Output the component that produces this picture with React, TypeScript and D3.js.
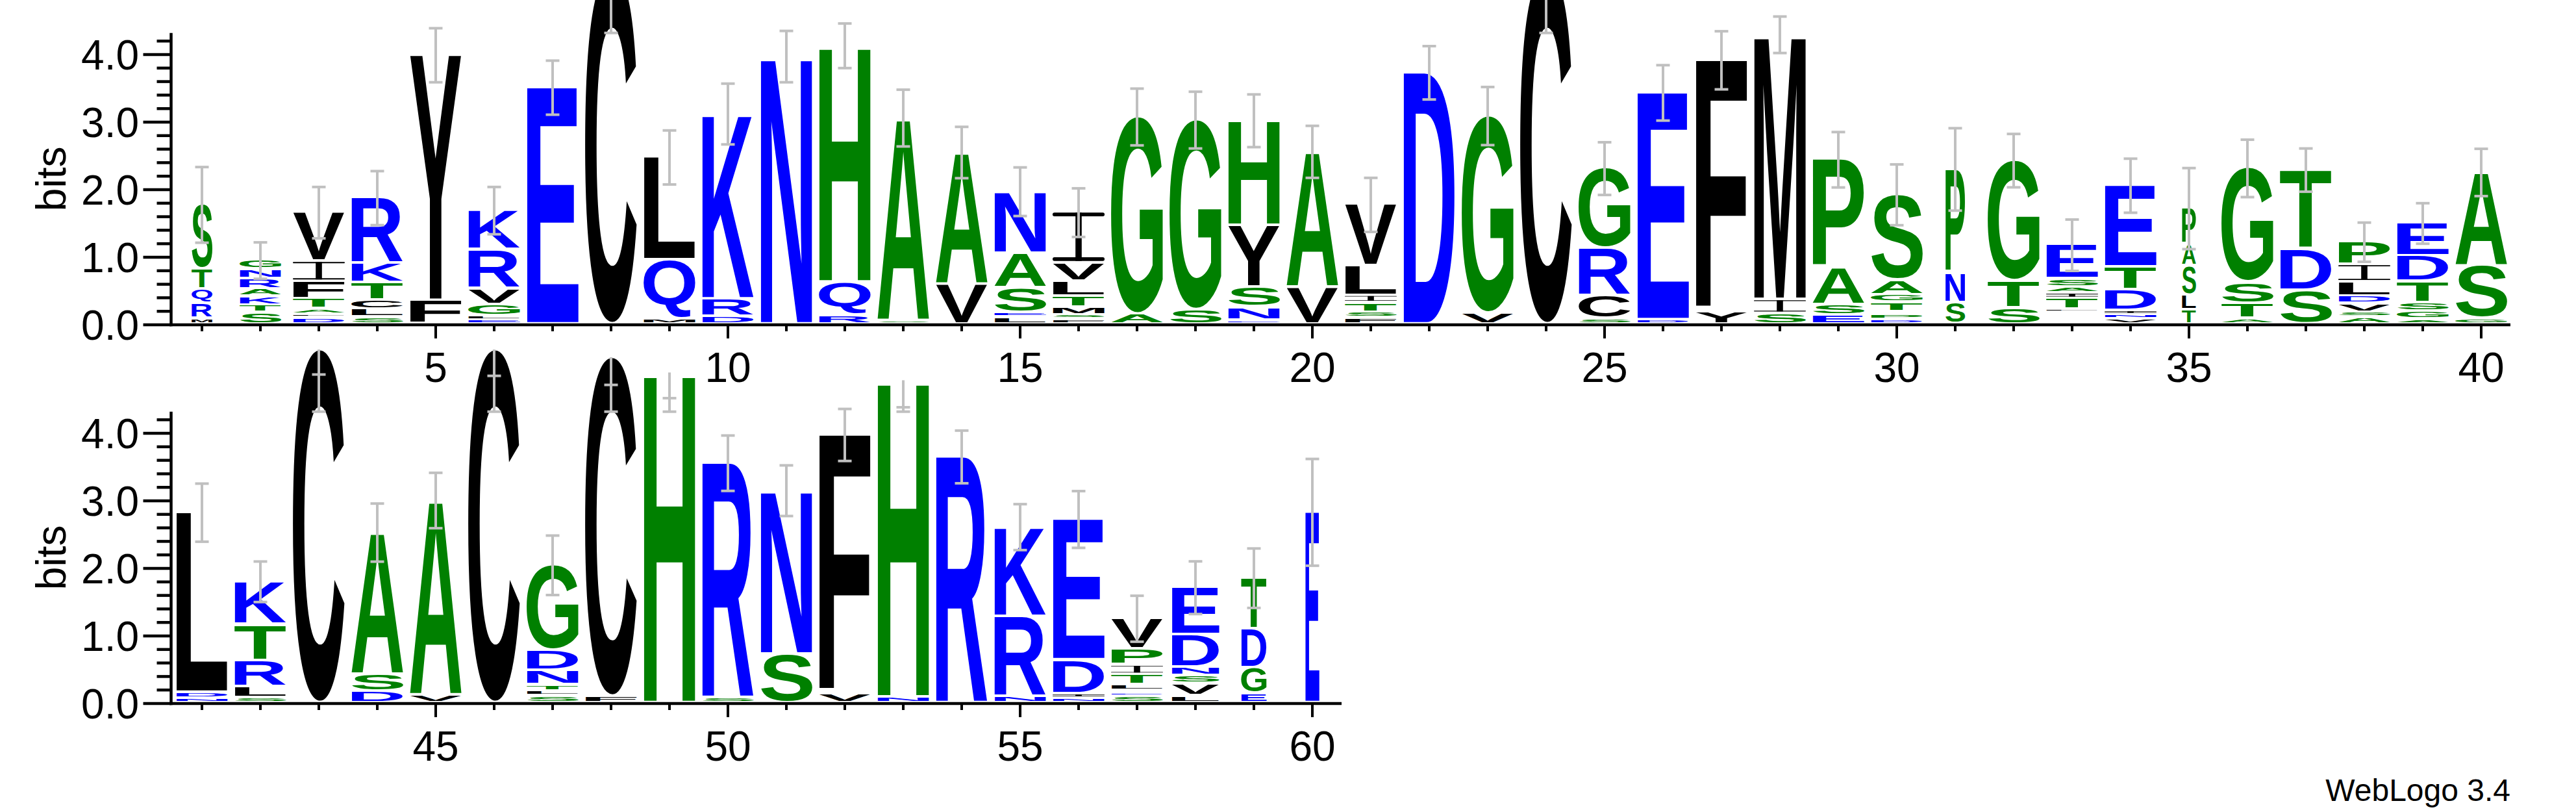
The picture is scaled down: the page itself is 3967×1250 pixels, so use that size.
import React, { useMemo } from 'react';
import * as d3 from 'd3';

// ---- data (bottom -> top letters per position, heights in bits) ----
const stackLetters: string[] = [
  'MRQTS', 'STKARNG', 'DLATFIV', 'SLCTKR', 'FY', 'ELGVRK', 'E', 'C', 'MQL', 'DRK',
  'N', 'RQH', 'SA', 'VA', 'LESAN', 'FSMTLVI', 'AG', 'SG', 'ENSYH', 'VA',
  'FSTILV', 'D', 'VG', 'C', 'SCRG', 'DE', 'YF', 'SIM', 'ESAP', 'DPNTGAS',
  'SNP', 'STG', 'KNRQLTIASE', 'VNIDTE', 'TLSAP', 'ATSG', 'SDT', 'ASVDLIP', 'AGSTDE', 'GSA',
  'NDL', 'SLRTK', 'C', 'DSA', 'VA', 'C', 'SLTNDG', 'FC', 'H', 'SR',
  'SN', 'VF', 'NH', 'R', 'NRK', 'NIDE', 'SEDLTIPV', 'LVSNDE', 'EGDT', 'E',
];

const stackBits: number[][] = [
  [0.08, 0.225, 0.21, 0.3, 0.96],
  [0.17, 0.11, 0.13, 0.11, 0.15, 0.14, 0.14],
  [0.09, 0.055, 0.08, 0.145, 0.26, 0.3, 0.73],
  [0.1, 0.12, 0.135, 0.26, 0.29, 0.97],
  [0.35, 3.64],
  [0.06, 0.06, 0.17, 0.24, 0.57, 0.59],
  [3.51],
  [5.24],
  [0.077, 0.87, 1.53],
  [0.11, 0.26, 2.75],
  [3.97],
  [0.13, 0.49, 3.51],
  [0.05, 3.01],
  [0.59, 1.96],
  [0.105, 0.06, 0.37, 0.515, 0.92],
  [0.07, 0.06, 0.12, 0.16, 0.22, 0.275, 0.755],
  [0.146, 2.93],
  [0.21, 2.82],
  [0.055, 0.195, 0.295, 0.91, 1.565],
  [0.545, 2.015],
  [0.09, 0.085, 0.14, 0.11, 0.44, 0.91],
  [3.73],
  [0.16, 2.93],
  [5.24],
  [0.077, 0.345, 0.7, 1.19],
  [0.063, 3.37],
  [0.19, 3.725],
  [0.157, 0.206, 3.93],
  [0.133, 0.15, 0.55, 1.61],
  [0.064, 0.08, 0.04, 0.14, 0.11, 0.22, 1.27],
  [0.32, 0.44, 1.54],
  [0.24, 0.4, 1.79],
  [0.042, 0.042, 0.042, 0.042, 0.05, 0.16, 0.08, 0.09, 0.12, 0.51],
  [0.074, 0.063, 0.062, 0.31, 0.34, 1.21],
  [0.21, 0.22, 0.43, 0.32, 0.54],
  [0.08, 0.225, 0.31, 1.7],
  [0.5, 0.61, 1.18],
  [0.1, 0.073, 0.13, 0.11, 0.21, 0.26, 0.34],
  [0.07, 0.12, 0.13, 0.31, 0.38, 0.49],
  [0.08, 0.785, 1.39],
  [0.065, 0.09, 2.67],
  [0.077, 0.16, 0.39, 0.53, 0.645],
  [5.24],
  [0.17, 0.25, 2.11],
  [0.115, 2.89],
  [5.24],
  [0.1, 0.07, 0.094, 0.216, 0.296, 1.27],
  [0.096, 5.03],
  [4.9],
  [0.077, 3.48],
  [0.72, 2.43],
  [0.135, 3.84],
  [0.085, 4.7],
  [3.65],
  [0.096, 1.185, 1.33],
  [0.067, 0.067, 0.5, 2.09],
  [0.096, 0.048, 0.036, 0.088, 0.15, 0.14, 0.24, 0.457],
  [0.104, 0.18, 0.115, 0.13, 0.48, 0.705],
  [0.135, 0.38, 0.58, 0.76],
  [2.83],
];

const errorBits: number[] = [
  0.56, 0.27, 0.38, 0.4, 0.4, 0.35, 0.4, 0.38, 0.4, 0.45,
  0.38, 0.33, 0.42, 0.38, 0.36, 0.36, 0.42, 0.42, 0.39, 0.385,
  0.4, 0.395, 0.43, 0.38, 0.39, 0.41, 0.43, 0.27, 0.41, 0.45,
  0.61, 0.395, 0.38, 0.4, 0.6, 0.425, 0.32, 0.29, 0.3, 0.35,
  0.43, 0.3, 0.37, 0.43, 0.41, 0.39, 0.44, 0.41, 0.38, 0.41,
  0.375, 0.385, 0.4, 0.39, 0.34, 0.42, 0.34, 0.39, 0.44, 0.79,
];

const widthFraction: number[] = [
  0.4, 0.8, 1, 1, 1, 1, 1, 1, 1, 1,
  1, 1, 1, 1, 1, 1, 1, 1, 1, 1,
  1, 1, 1, 1, 1, 1, 1, 1, 1, 1,
  0.38, 1, 1, 1, 0.27, 1, 1, 1, 1, 1,
  1, 1, 1, 1, 1, 1, 1, 1, 1, 1,
  1, 1, 1, 1, 1, 1, 1, 0.92, 0.49, 0.27,
];

const rowStarts: number[] = [1, 41];
const rowEnds: number[] = [40, 60];
const xTickLabelEvery = 5;
const yTickValues: number[] = [0, 1, 2, 3, 4];
const yTickLabels: string[] = ['0.0', '1.0', '2.0', '3.0', '4.0'];
const yMaxBits = 4.32;

const BLUE = '#0000FF';
const GREEN = '#008000';
const BLACK = '#000000';
const ERR = '#C0C0C0';

function colorOf(ch: string): string {
  if ('RKDENQ'.includes(ch)) return BLUE;
  if ('SGHTAP'.includes(ch)) return GREEN;
  return BLACK;
}

const GLYPH_FONT = 'bold 100px "Liberation Sans"';

type GBox = { l: number; r: number; a: number; d: number };

function measureGlyphs(chars: string): Record<string, GBox> {
  const out: Record<string, GBox> = {};
  const ctx = document.createElement('canvas').getContext('2d');
  for (const ch of chars) {
    if (out[ch]) continue;
    if (ctx) {
      ctx.font = GLYPH_FONT;
      const m = ctx.measureText(ch);
      out[ch] = {
        l: m.actualBoundingBoxLeft,
        r: m.actualBoundingBoxRight,
        a: m.actualBoundingBoxAscent,
        d: m.actualBoundingBoxDescent,
      };
    } else {
      out[ch] = { l: -5, r: 70, a: 72, d: 0 };
    }
  }
  return out;
}

const COL = 90;
const FIRST_CENTER = 311;
const PX_PER_BIT = 104;
const FULL_W = 80;
const GAP = 4.2;
const LABEL_FONT = '"Liberation Sans", Arial, sans-serif';

function Row({ rowIdx, baseline, glyphs }: { rowIdx: number; baseline: number; glyphs: Record<string, GBox> }) {
  const start = rowStarts[rowIdx];
  const end = rowEnds[rowIdx];
  const n = end - start + 1;
  const x = d3.scaleLinear().domain([start, end]).range([FIRST_CENTER, FIRST_CENTER + (end - start) * COL]);
  const y = d3.scaleLinear().domain([0, yMaxBits]).range([baseline, baseline - yMaxBits * PX_PER_BIT]);
  const axisX = 263.5;
  const axisEnd = FIRST_CENTER - COL / 2 + n * COL;
  const positions = d3.range(start, end + 1);
  const minorTicks = d3.range(0, 4.21, 0.2);

  const elems: React.ReactNode[] = [];
  positions.forEach((p) => {
    const i = p - 1;
    const letters = stackLetters[i];
    const bits = stackBits[i];
    const w = FULL_W * widthFraction[i];
    const cx = x(p);
    const x0 = cx - w / 2;
    let cum = 0;
    letters.split('').forEach((ch, k) => {
      const h = bits[k];
      const top = y(cum + h);
      const bottom = y(cum);
      cum += h;
      const inkH = bottom - top - GAP;
      if (inkH < 0.35) return;
      if (ch === 'I') {
        // serif-style I as drawn by WebLogo
        const t = Math.max(inkH * 0.075, 0.8);
        const sw = w * 0.12;
        elems.push(
          <g key={`l${p}-${k}`} fill={colorOf(ch)}>
            <rect x={x0} y={top} width={w} height={t} rx={Math.min(t / 2, 3)} />
            <rect x={cx - sw / 2} y={top} width={sw} height={inkH} />
            <rect x={x0} y={top + inkH - t} width={w} height={t} rx={Math.min(t / 2, 3)} />
          </g>
        );
        return;
      }
      const g = glyphs[ch];
      const iw = g.l + g.r;
      const ih = g.a + g.d;
      const sx = w / iw;
      const sy = inkH / ih;
      elems.push(
        <text
          key={`l${p}-${k}`}
          transform={`translate(${x0 + g.l * sx},${top + g.a * sy}) scale(${sx},${sy})`}
          fontFamily='"Liberation Sans", Arial, sans-serif'
          fontWeight="bold"
          fontSize={100}
          fill={colorOf(ch)}
        >
          {ch}
        </text>
      );
    });
  });

  // error bars
  positions.forEach((p) => {
    const i = p - 1;
    const total = d3.sum(stackBits[i]);
    const e = errorBits[i];
    const cx = x(p);
    let yA: number, yB: number, caps: number[];
    if (total > yMaxBits) {
      yA = y(total);
      yB = y(yMaxBits);
      caps = [y(total - e), y(yMaxBits)];
    } else {
      yA = y(total + e);
      yB = y(total - e);
      caps = [yA, yB];
    }
    elems.push(
      <g key={`e${p}`} stroke={ERR} strokeWidth={4}>
        <line x1={cx} x2={cx} y1={yA} y2={yB} />
        {caps.map((cy, k) => (
          <line key={k} x1={cx - 10.5} x2={cx + 10.5} y1={cy} y2={cy} />
        ))}
      </g>
    );
  });

  return (
    <g>
      {elems}
      {/* y axis */}
      <line x1={axisX} x2={axisX} y1={y(yMaxBits)} y2={baseline + 2.2} stroke={BLACK} strokeWidth={4.5} />
      {minorTicks.map((v) => {
        const major = Math.abs(v - Math.round(v)) < 1e-6;
        return (
          <line
            key={`yt${v.toFixed(1)}`}
            x1={axisX - (major ? 43 : 22)}
            x2={axisX}
            y1={y(v)}
            y2={y(v)}
            stroke={BLACK}
            strokeWidth={4.5}
          />
        );
      })}
      {yTickValues.map((v, k) => (
        <text
          key={`yl${v}`}
          x={214}
          y={y(v) + 23}
          textAnchor="end"
          fontFamily={LABEL_FONT}
          fontSize={64}
          fill={BLACK}
        >
          {yTickLabels[k]}
        </text>
      ))}
      <text
        transform={`translate(101,${(y(0) + y(yMaxBits)) / 2}) rotate(-90)`}
        textAnchor="middle"
        fontFamily={LABEL_FONT}
        fontSize={64}
        fill={BLACK}
      >
        bits
      </text>
      {/* x axis */}
      <line x1={axisX - 2.2} x2={axisEnd} y1={baseline} y2={baseline} stroke={BLACK} strokeWidth={4.5} />
      {positions.map((p) => {
        const major = p % xTickLabelEvery === 0;
        return (
          <g key={`xt${p}`}>
            <line x1={x(p)} x2={x(p)} y1={baseline} y2={baseline + (major ? 21 : 10)} stroke={BLACK} strokeWidth={4} />
            {major && (
              <text x={x(p)} y={baseline + 88} textAnchor="middle" fontFamily={LABEL_FONT} fontSize={64} fill={BLACK}>
                {p}
              </text>
            )}
          </g>
        );
      })}
    </g>
  );
}

export default function App() {
  const glyphs = useMemo(() => measureGlyphs(stackLetters.join('')), []);
  return (
    <svg
      width={3967}
      height={1250}
      viewBox="0 0 3967 1250"
      style={{ position: 'absolute', left: 0, top: 0, background: '#fff' }}
    >
      <rect x={0} y={0} width={3967} height={1250} fill="#fff" />
      <Row rowIdx={1} baseline={1083} glyphs={glyphs} />
      <Row rowIdx={0} baseline={500} glyphs={glyphs} />
      <text x={3866} y={1233} textAnchor="end" fontFamily={LABEL_FONT} fontSize={48} fill={BLACK}>
        WebLogo 3.4
      </text>
    </svg>
  );
}
